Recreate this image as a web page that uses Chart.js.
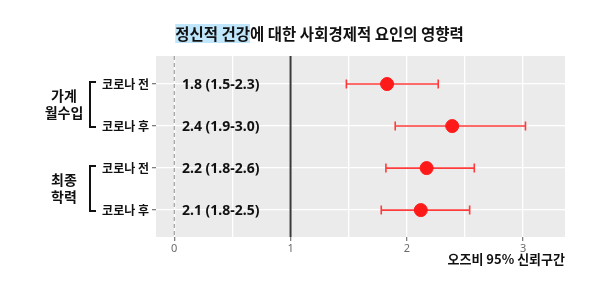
<!DOCTYPE html>
<html>
<head>
<meta charset="utf-8">
<script src="https://cdn.jsdelivr.net/npm/chart.js@4"></script>
<style>
  html, body { margin: 0; padding: 0; background: #fff; }
  #wrap { width: 603px; height: 287px; }
</style>
</head>
<body>
<div id="wrap"><canvas id="chart" width="603" height="287"></canvas></div>
<script>
// Data
const rowLabels = ['코로나 전', '코로나 후', '코로나 전', '코로나 후'];
const estimates = [1.83, 2.39, 2.17, 2.12];
const lowerCI = [1.48, 1.90, 1.82, 1.78];
const upperCI = [2.27, 3.02, 2.58, 2.54];
const ciLabels = ['1.8 (1.5-2.3)', '2.4 (1.9-3.0)', '2.2 (1.8-2.6)', '2.1 (1.8-2.5)'];
const groups = [
    { lines: ['가계', '월수입'], from: 1, to: 2 },
    { lines: ['최종', '학력'], from: 3, to: 4 }
];
const xTicks = [0, 1, 2, 3];
const titleHighlight = '정신적 건강';
const titleRest = '에 대한 사회경제적 요인의 영향력';
const xTitle = '오즈비 95% 신뢰구간';

const KR = '"Noto Sans CJK KR", "Noto Sans", sans-serif';

// Background panel
const panelBg = {
    id: 'panelBg',
    beforeDraw(chart) {
        const { ctx, chartArea: a } = chart;
        ctx.save();
        ctx.fillStyle = '#EBEBEB';
        ctx.fillRect(a.left, a.top, a.right - a.left, a.bottom - a.top);
        ctx.restore();
    }
};

// Reference lines and error bars
const errorBars = {
    id: 'errorBars',
    beforeDatasetsDraw(chart) {
        const { ctx, chartArea: a, scales: { x, y } } = chart;
        ctx.save();
        // dashed line at 0
        ctx.strokeStyle = '#8C8C8C';
        ctx.lineWidth = 1;
        ctx.setLineDash([4, 3]);
        ctx.beginPath();
        ctx.moveTo(x.getPixelForValue(0), a.top);
        ctx.lineTo(x.getPixelForValue(0), a.bottom);
        ctx.stroke();
        ctx.setLineDash([]);
        // solid line at 1
        ctx.strokeStyle = '#3A3A3A';
        ctx.lineWidth = 2;
        ctx.beginPath();
        ctx.moveTo(x.getPixelForValue(1), a.top);
        ctx.lineTo(x.getPixelForValue(1), a.bottom);
        ctx.stroke();
        // CI bars
        ctx.strokeStyle = '#FF3A3A';
        ctx.lineWidth = 1.6;
        estimates.forEach((_, i) => {
            const py = y.getPixelForValue(i + 1);
            const x0 = x.getPixelForValue(lowerCI[i]);
            const x1 = x.getPixelForValue(upperCI[i]);
            ctx.beginPath();
            ctx.moveTo(x0, py); ctx.lineTo(x1, py);
            ctx.moveTo(x0, py - 4.5); ctx.lineTo(x0, py + 4.5);
            ctx.moveTo(x1, py - 4.5); ctx.lineTo(x1, py + 4.5);
            ctx.stroke();
        });
        ctx.restore();
    }
};

// Text: CI labels, group labels, brackets, title, x title
const annotations = {
    id: 'annotations',
    afterDraw(chart) {
        const { ctx, chartArea: a, scales: { y } } = chart;
        ctx.save();
        // CI labels inside panel
        ctx.fillStyle = '#111';
        ctx.font = 'bold 14px "Noto Sans", sans-serif';
        ctx.textAlign = 'left';
        ctx.textBaseline = 'middle';
        ciLabels.forEach((t, i) => ctx.fillText(t, 182, y.getPixelForValue(i + 1) + 1));

        // groups
        groups.forEach(g => {
            const y0 = y.getPixelForValue(g.from);
            const y1 = y.getPixelForValue(g.to);
            ctx.strokeStyle = '#111';
            ctx.lineWidth = 2;
            ctx.beginPath();
            ctx.moveTo(96, y0 - 2); ctx.lineTo(90, y0 - 2);
            ctx.lineTo(90, y1 + 1); ctx.lineTo(96, y1 + 1);
            ctx.stroke();
            ctx.fillStyle = '#111';
            ctx.font = 'bold 14px ' + KR;
            ctx.textAlign = 'center';
            const mid = (y0 + y1) / 2;
            ctx.fillText(g.lines[0], 64, mid - 9);
            ctx.fillText(g.lines[1], 64, mid + 8);
        });

        // title with highlight
        ctx.font = 'bold 15.5px ' + KR;
        ctx.textAlign = 'left';
        const w1 = ctx.measureText(titleHighlight).width;
        const w2 = ctx.measureText(titleRest).width;
        const tx = 319.5 - (w1 + w2) / 2;
        ctx.fillStyle = '#BFE6FA';
        ctx.fillRect(tx, 24, w1, 19);
        ctx.fillStyle = '#111';
        ctx.fillText(titleHighlight, tx, 34);
        ctx.fillText(titleRest, tx + w1, 34);

        // x axis title
        ctx.font = 'bold 13px ' + KR;
        ctx.textAlign = 'right';
        ctx.fillText(xTitle, a.right, 259);
        ctx.restore();
    }
};

new Chart(document.getElementById('chart'), {
    type: 'scatter',
    data: {
        datasets: [{
            data: estimates.map((v, i) => ({ x: v, y: i + 1 })),
            backgroundColor: '#FF1A1A',
            borderColor: '#FF1A1A',
            pointRadius: 6.5,
            pointHoverRadius: 6.5
        }]
    },
    options: {
        responsive: false,
        animation: false,
        layout: { padding: { left: 96, right: 38, top: 56, bottom: 20 } },
        plugins: { legend: { display: false }, tooltip: { enabled: false } },
        scales: {
            x: {
                type: 'linear',
                min: -0.157,
                max: 3.36,
                afterBuildTicks: s => { s.ticks = [0, 0.5, 1, 1.5, 2, 2.5, 3].map(v => ({ value: v })); },
                afterFit: s => { s.height = 30; },
                border: { display: false },
                grid: {
                    color: '#FFFFFF',
                    lineWidth: 1.3,
                    tickLength: 4,
                    tickColor: c => xTicks.includes(c.tick.value) ? '#7F7F7F' : 'rgba(0,0,0,0)'
                },
                ticks: {
                    color: '#6B6B6B',
                    font: { size: 11, family: '"Noto Sans", sans-serif' },
                    padding: 1,
                    maxRotation: 0,
                    callback: v => xTicks.includes(v) ? String(v) : ''
                }
            },
            y: {
                type: 'linear',
                reverse: true,
                min: 0.333,
                max: 4.64,
                afterBuildTicks: s => { s.ticks = rowLabels.map((_, i) => ({ value: i + 1 })); },
                afterFit: s => { s.width = 60; },
                border: { display: false },
                grid: { color: '#FFFFFF', lineWidth: 1.3, tickLength: 4, tickColor: '#7F7F7F' },
                ticks: {
                    color: '#111',
                    font: { size: 12, weight: 'bold', family: KR },
                    padding: 3,
                    callback: v => rowLabels[v - 1] ?? ''
                }
            }
        }
    },
    plugins: [panelBg, errorBars, annotations]
});
</script>
</body>
</html>
